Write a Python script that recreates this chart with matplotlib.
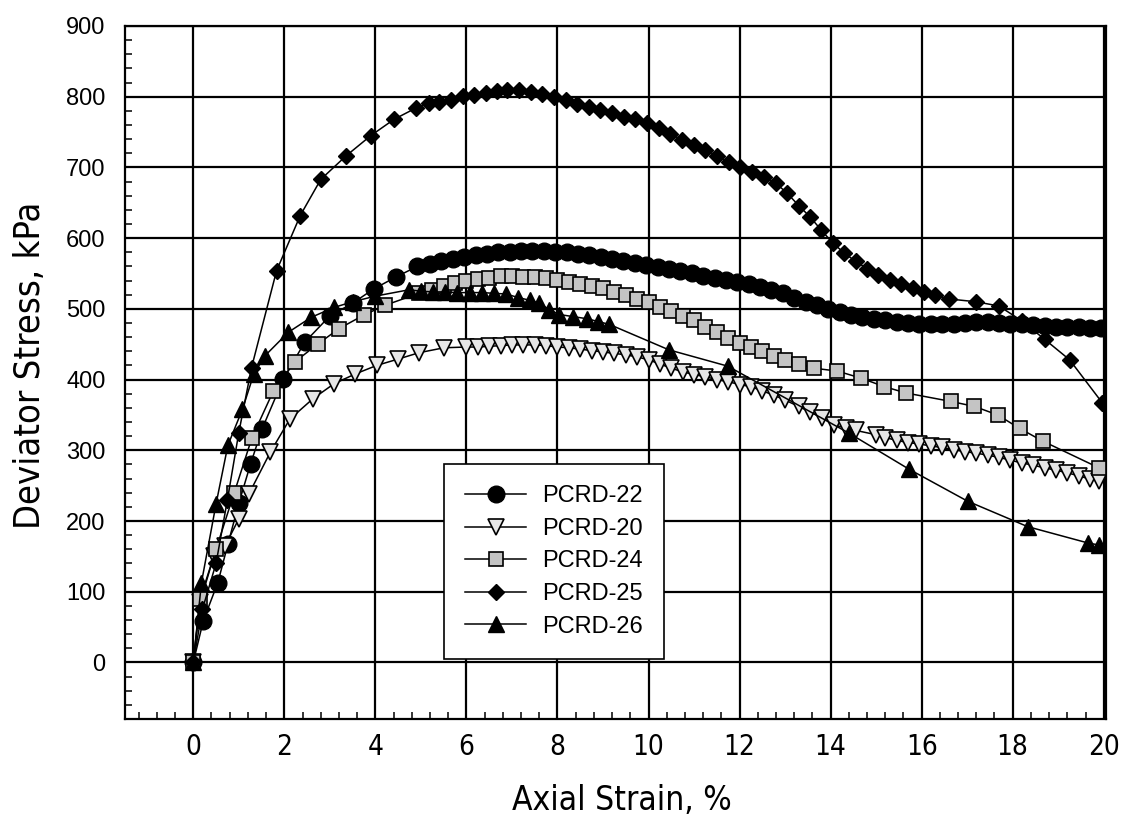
import matplotlib
matplotlib.use("Agg")
import matplotlib.pyplot as plt
from matplotlib import font_manager
from matplotlib.font_manager import FontProperties
from matplotlib.ticker import MultipleLocator

# --- data (axial strain %, deviator stress kPa) ---
x22 = [0, 0.22, 0.54, 0.76, 1.0, 1.26, 1.51, 1.98, 2.45, 3.0,
       3.5, 3.96, 4.45, 4.92, 5.2, 5.45, 5.7, 5.95, 6.2, 6.45,
       6.7, 6.95, 7.2, 7.45, 7.7, 7.95, 8.2, 8.45, 8.7, 8.95,
       9.2, 9.45, 9.7, 9.95, 10.2, 10.45, 10.7, 10.95, 11.2, 11.45,
       11.7, 11.95, 12.2, 12.45, 12.7, 12.95, 13.2, 13.45, 13.7, 13.95,
       14.2, 14.45, 14.7, 14.95, 15.2, 15.45, 15.7, 15.95, 16.2, 16.45,
       16.7, 16.95, 17.2, 17.45, 17.7, 17.95, 18.2, 18.45, 18.7, 18.95,
       19.2, 19.45, 19.7, 19.95]
y22 = [0, 59, 113, 167, 225, 281, 330, 401, 453, 490,
       508, 528, 545, 560, 564, 567, 570, 573, 576, 578,
       580, 581, 582, 582, 582, 581, 580, 578, 576, 574,
       571, 568, 565, 562, 559, 556, 553, 550, 547, 544,
       541, 538, 535, 531, 527, 522, 516, 510, 505, 500,
       496, 492, 489, 486, 484, 482, 480, 479, 478, 478,
       479, 480, 481, 481, 480, 479, 478, 477, 476, 475,
       474, 474, 473, 473]

x20 = [0, 0.15, 0.45, 0.7, 1.0, 1.22, 1.69, 2.12, 2.63, 3.09,
       3.56, 4.03, 4.5, 4.96, 5.51, 5.99, 6.25, 6.5, 6.75, 7.0,
       7.25, 7.5, 7.75, 8.0, 8.25, 8.5, 8.75, 9.0, 9.25, 9.5,
       9.75, 10.0, 10.25, 10.5, 10.75, 11.0, 11.25, 11.5, 11.75, 12.0,
       12.25, 12.5, 12.75, 13.0, 13.3, 13.55, 13.82, 14.08, 14.34, 14.56,
       15.0, 15.2, 15.45, 15.7, 15.95, 16.2, 16.45, 16.7, 16.95, 17.2,
       17.45, 17.7, 17.95, 18.2, 18.45, 18.7, 18.95, 19.2, 19.45, 19.7,
       19.9]
y20 = [0, 85, 150, 165, 203, 238, 297, 344, 373, 394,
       408, 420, 429, 438, 445, 446, 446, 447, 448, 449,
       449, 449, 448, 446, 445, 443, 441, 439, 437, 435,
       432, 428, 422, 416, 411, 407, 404, 400, 397, 393,
       390, 384, 378, 371, 362, 354, 346, 336, 331, 328,
       322, 318, 314, 311, 309, 306, 304, 301, 298, 296,
       293, 290, 286, 282, 279, 275, 272, 268, 264, 259,
       256]

x24 = [0, 0.15, 0.5, 0.9, 1.29, 1.76, 2.23, 2.73, 3.2, 3.74,
       4.21, 4.96, 5.25, 5.5, 5.75, 6.0, 6.25, 6.5, 6.75, 7.0,
       7.25, 7.5, 7.75, 8.0, 8.25, 8.5, 8.75, 9.0, 9.25, 9.5,
       9.75, 10.0, 10.25, 10.5, 10.75, 11.0, 11.25, 11.5, 11.75, 12.0,
       12.25, 12.5, 12.75, 13.0, 13.3, 13.64, 14.15, 14.67, 15.18, 15.66,
       16.65, 17.16, 17.67, 18.15, 18.66, 19.9]
y24 = [0, 90, 160, 240, 318, 384, 425, 450, 472, 491,
       505, 522, 527, 532, 536, 539, 542, 544, 546, 546,
       545, 545, 543, 541, 538, 535, 532, 529, 524, 519,
       514, 509, 503, 497, 490, 484, 475, 467, 459, 452,
       446, 440, 434, 428, 422, 416, 412, 402, 390, 381,
       369, 362, 350, 331, 313, 275]

x25 = [0, 0.2, 0.5, 0.75, 1.0, 1.28, 1.83, 2.35, 2.8, 3.35,
       3.9, 4.41, 4.89, 5.18, 5.40, 5.66, 5.92, 6.17, 6.43, 6.68,
       6.90, 7.16, 7.41, 7.67, 7.92, 8.18, 8.43, 8.69, 8.94, 9.20,
       9.46, 9.71, 9.97, 10.22, 10.48, 10.74, 10.99, 11.25, 11.51, 11.76,
       12.02, 12.28, 12.53, 12.79, 13.04, 13.30, 13.55, 13.80, 14.05, 14.30,
       14.55, 14.80, 15.05, 15.30, 15.55, 15.80, 16.05, 16.30, 16.60, 17.20,
       17.70, 18.20, 18.70, 19.25, 19.97]
y25 = [0, 75, 140, 230, 325, 417, 554, 632, 683, 716,
       745, 768, 784, 791, 793, 796, 801, 803, 805, 808,
       810, 809, 807, 804, 799, 795, 790, 785, 781, 777,
       772, 768, 763, 756, 747, 739, 732, 725, 716, 707,
       700, 694, 687, 678, 664, 646, 630, 611, 593, 579,
       567, 557, 548, 541, 535, 529, 524, 519, 514, 510,
       504, 483, 457, 428, 367]

x26 = [0, 0.18, 0.5, 0.76, 1.08, 1.33, 1.58, 2.09, 2.59, 3.09,
       3.5, 4.0, 4.74, 5.0, 5.27, 5.54, 5.8, 6.07, 6.34, 6.6,
       6.87, 7.14, 7.4, 7.6, 7.82, 8.04, 8.35, 8.65, 8.9, 9.14,
       10.45, 11.74, 14.41, 15.73, 17.01, 18.33, 19.65, 19.9]
y26 = [0, 113, 224, 307, 358, 408, 434, 467, 488, 502,
       510, 518, 527, 525, 524, 524, 523, 523, 523, 522,
       521, 516, 512, 508, 499, 492, 489, 486, 482, 478,
       442, 419, 324, 273, 228, 192, 169, 166]

names = ["PCRD-22", "PCRD-20", "PCRD-24", "PCRD-25", "PCRD-26"]

plt.rcParams["font.family"] = ["Liberation Sans", "DejaVu Sans"]

# the axis titles and x numbers are in a narrow face; use one if there is one
fonts = font_manager.fontManager.ttflist
names_installed = {f.name for f in fonts}
narrow = FontProperties(family="Liberation Sans")
if "Liberation Sans Narrow" in names_installed:
    narrow = FontProperties(family="Liberation Sans Narrow")
else:
    for f in fonts:
        if f.name == "DejaVu Sans" and f.stretch in ("condensed", "semi-condensed") \
                and f.weight in (400, "normal", "regular") and f.style == "normal":
            narrow = FontProperties(fname=f.fname)
            break
wide = FontProperties(family="Liberation Sans", size=17)

W, H = 1130, 825
fig = plt.figure(figsize=(W / 100, H / 100), dpi=100)
ax = fig.add_axes([125 / W, 1 - 719 / H, 981 / W, 693 / H])

lw = 1.1
ax.plot(x22, y22, color="black", lw=lw, marker="o", ms=12,
        mfc="black", mec="black", label=names[0], zorder=3)
ax.plot(x20, y20, color="black", lw=lw, marker="v", ms=11,
        mfc="#e6e6e6", mec="black", mew=1.2, label=names[1], zorder=3)
ax.plot(x24, y24, color="black", lw=lw, marker="s", ms=10,
        mfc="#c4c4c4", mec="black", mew=1.2, label=names[2], zorder=3)
ax.plot(x25, y25, color="black", lw=lw, marker="D", ms=8.6,
        mfc="black", mec="black", label=names[3], zorder=4)
ax.plot(x26, y26, color="black", lw=lw, marker="^", ms=11.5,
        mfc="black", mec="black", label=names[4], zorder=3)

ax.set_xlim(-1.5, 20.05)
ax.set_ylim(-80, 900)
ax.set_xticks(range(0, 21, 2))
ax.set_yticks(range(0, 901, 100))
ax.xaxis.set_minor_locator(MultipleLocator(0.4))
ax.yaxis.set_minor_locator(MultipleLocator(20))
ax.tick_params(which="major", length=0)
ax.tick_params(which="minor", direction="in", length=5, width=1.1, color="black")
ax.tick_params(axis="y", which="major", pad=14)
ax.tick_params(axis="x", which="major", pad=10)
ax.set_xticklabels([str(v) for v in range(0, 21, 2)],
                   fontproperties=narrow, fontsize=20)
ax.set_yticklabels([str(v) for v in range(0, 901, 100)],
                   fontproperties=wide)

ax.grid(True, which="major", color="black", linewidth=1.6)
ax.set_axisbelow(True)
for s in ax.spines.values():
    s.set_linewidth(1.6)
    s.set_color("black")

fig.text(30 / W, 1 - 365 / H, "Deviator Stress, kPa", rotation=90,
         ha="center", va="center", fontproperties=narrow, fontsize=26)
fig.text(622 / W, 1 - 800 / H, "Axial Strain, %",
         ha="center", va="center", fontproperties=narrow, fontsize=24)

leg = ax.legend(loc="lower left", bbox_to_anchor=(0.325, 0.0866),
                borderaxespad=0, fontsize=17, frameon=True, fancybox=False,
                edgecolor="black", framealpha=1, handlelength=2.6,
                handletextpad=0.65, labelspacing=0.45, borderpad=0.9)
leg.get_frame().set_linewidth(1.2)
leg.set_zorder(10)

fig.savefig("out.png", dpi=100)
